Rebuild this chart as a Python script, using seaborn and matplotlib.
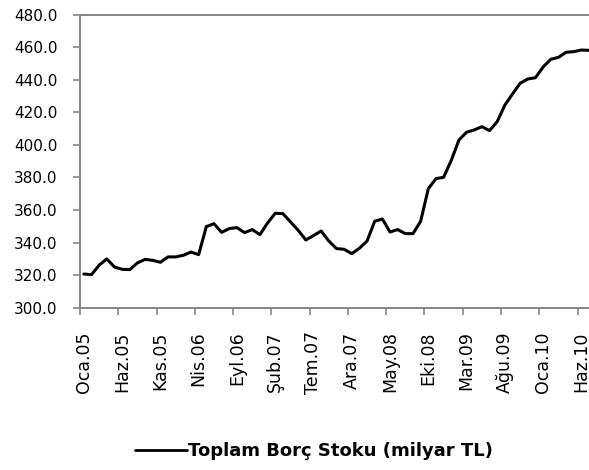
import numpy as np
import pandas as pd
import matplotlib
matplotlib.use("Agg")
import matplotlib.pyplot as plt
from matplotlib.lines import Line2D
import seaborn as sns

# Monthly total debt stock, Jan 2005 - Jul 2010 (billion TL)
debt_stock = [
    320.7, 320.3, 326.1, 330.0, 325.0, 323.6, 323.4, 327.5, 329.7, 329.1,
    327.9, 331.2, 331.2, 332.2, 334.2, 332.6, 349.8, 351.6, 346.3, 348.6,
    349.2, 346.1, 348.0, 344.9, 352.0, 358.0, 357.8, 352.7, 347.6, 341.6,
    344.3, 347.1, 341.0, 336.3, 335.9, 333.2, 336.5, 341.0, 353.1, 354.5,
    346.5, 348.0, 345.5, 345.5, 353.1, 373.1, 379.3, 380.1, 390.5, 403.0,
    407.8, 409.2, 411.2, 408.8, 414.3, 424.5, 431.3, 437.9, 440.5, 441.3,
    447.9, 452.6, 453.8, 456.9, 457.3, 458.3, 458.1,
]
tick_labels = ["Oca.05", "Haz.05", "Kas.05", "Nis.06", "Eyl.06", "Şub.07",
               "Tem.07", "Ara.07", "May.08", "Eki.08", "Mar.09", "Ağu.09",
               "Oca.10", "Haz.10"]
y_ticks = [300, 320, 340, 360, 380, 400, 420, 440, 460, 480]
series_name = "Toplam Borç Stoku (milyar TL)"

df = pd.DataFrame({"month": np.arange(len(debt_stock)), "value": debt_stock})

sns.set_theme(style="white")
plt.rcParams["font.family"] = ["DejaVu Sans"]
plt.rcParams["text.color"] = "black"

fig = plt.figure(figsize=(5.89, 4.70), dpi=100)
ax = fig.add_axes([80 / 589, 1 - 307.7 / 470, 1 - 80 / 589 + 0.004, (307.7 - 14.7) / 470])

sns.lineplot(data=df, x="month", y="value", ax=ax, color="black", linewidth=2.2)

axis_grey = "#868686"
ax.set_ylim(300, 480)
ax.set_yticks(y_ticks)
ax.set_yticklabels([f"{v:.1f}" for v in y_ticks])
ax.set_xlim(-0.5, 66.3)

# tick marks at category boundaries, labels at category centres
step = 5
ax.set_xticks(np.arange(-0.5, len(debt_stock), step))
ax.set_xticklabels([])
ax.set_xticks(np.arange(0, len(debt_stock), step), minor=True)
ax.set_xticklabels(tick_labels, minor=True, rotation=90)
ax.tick_params(axis="x", which="major", direction="out", length=4.7, width=1.2,
               color=axis_grey, bottom=True)
ax.tick_params(axis="x", which="minor", length=0, labelsize=12.5, pad=17,
               labelcolor="black")
ax.tick_params(axis="y", direction="out", length=5, width=1.2, color=axis_grey,
               left=True, labelsize=11, pad=11, labelcolor="black")

ax.set_xlabel("")
ax.set_ylabel("")
for side in ["left", "bottom", "top"]:
    ax.spines[side].set_color(axis_grey)
    ax.spines[side].set_linewidth(1.4)
ax.spines["right"].set_visible(False)

handle = Line2D([], [], color="black", linewidth=2.0)
fig.legend([handle], [series_name], loc="center", bbox_to_anchor=(314 / 589, 1 - 451 / 470),
           frameon=False, handlelength=2.9, handletextpad=0.05, labelcolor="black",
           prop={"weight": "bold", "size": 13})

fig.savefig("out.png", dpi=100)
